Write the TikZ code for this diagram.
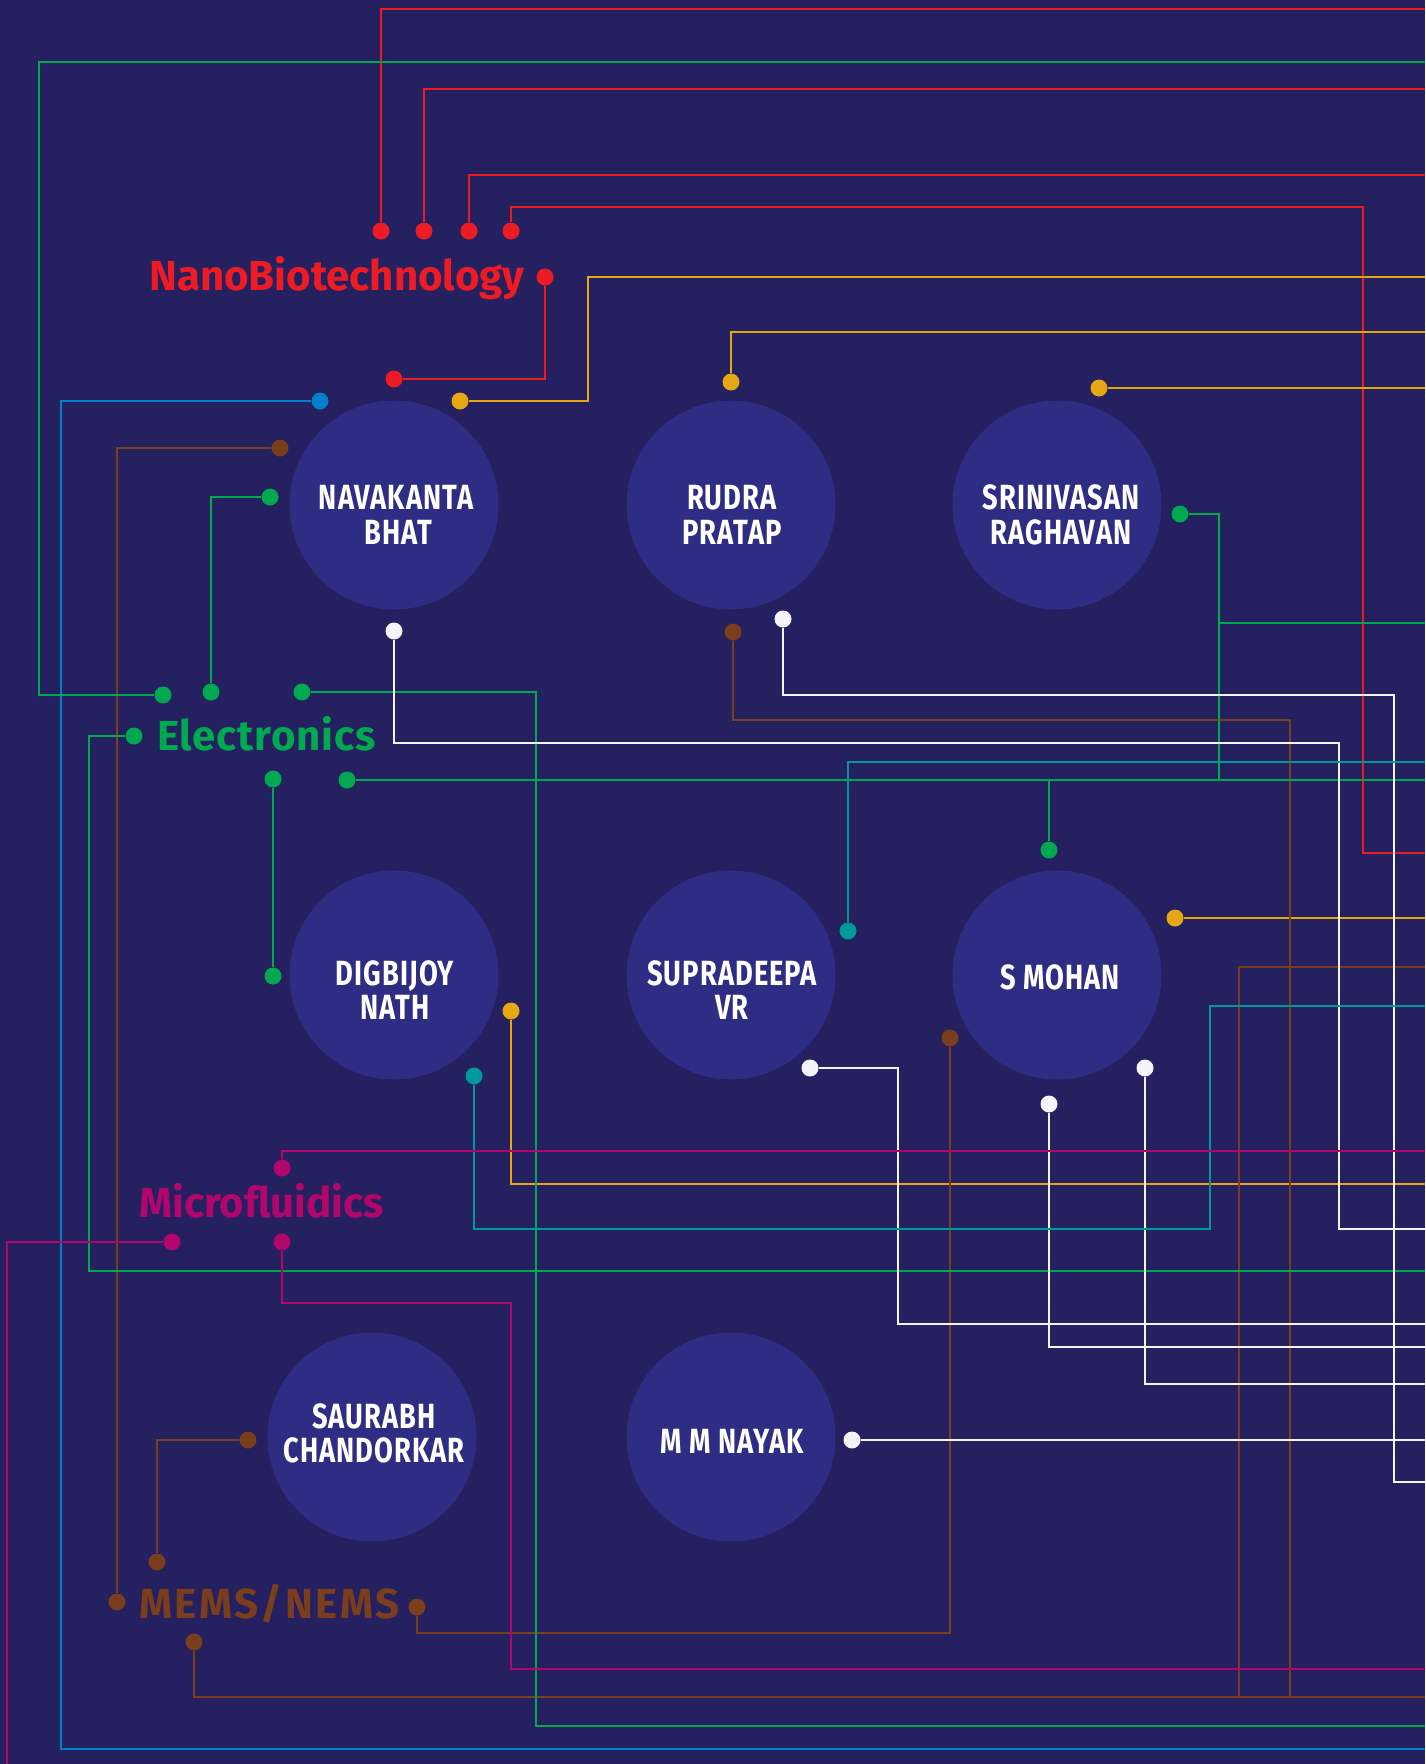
\documentclass[tikz,border=0pt]{standalone}
\usepackage{fontspec}
\setmainfont{Fira Sans}
\newfontfamily\namefont[FakeStretch=0.78,LetterSpace=3]{Fira Sans}
\newfontfamily\topicfont{Fira Sans}
\newfontfamily\topicfontsp[LetterSpace=2]{Fira Sans}
\newfontfamily\topicfontwide[LetterSpace=6]{Fira Sans}
\definecolor{bg}{HTML}{25205F}
\definecolor{circ}{HTML}{2E2D83}
\definecolor{cred}{HTML}{ED1C24}
\definecolor{cgreen}{HTML}{00A84F}
\definecolor{cyellow}{HTML}{E5A812}
\definecolor{cblue}{HTML}{0080C8}
\definecolor{cbrown}{HTML}{7A3E1C}
\definecolor{cteal}{HTML}{00999A}
\definecolor{cmag}{HTML}{B1066B}
\definecolor{cwhite}{HTML}{F4F4FA}
\tikzset{
  ln/.style={line width=1.7pt, draw=#1},
  tdot/.style={circle, fill=#1, inner sep=0pt, minimum size=17pt},
  person/.style={circle, fill=circ, inner sep=0pt, minimum size=209pt},
  nm/.style={font=\namefont\bfseries\fontsize{35}{35}\selectfont, text=white, anchor=base, inner sep=0pt},
  topic/.style={font=\topicfont\bfseries\fontsize{42}{42}\selectfont, text=#1, anchor=base west, inner sep=0pt},
}
\begin{document}
\begin{tikzpicture}[x=1pt,y=-1pt]
\fill[bg] (0,0) rectangle (1425,1764);
\useasboundingbox (0,0) rectangle (1425,1764);

% people
\node[person] (nb) at (394,505) {};
\node[person] (rp) at (731,505) {};
\node[person] (sr) at (1057,505) {};
\node[person] (dn) at (394,975) {};
\node[person] (sv) at (731,975) {};
\node[person] (sm) at (1057,975) {};
\node[person] (sc) at (372,1437) {};
\node[person] (mm) at (731,1437) {};

\node[nm] (nb1) at (396,509) {NAVAKANTA};
\node[nm] (nb2) at (398,544) {BHAT};
\node[nm] (rp1) at (732,509) {RUDRA};
\node[nm] (rp2) at (732,544) {PRATAP};
\node[nm] (sr1) at (1061,509) {SRINIVASAN};
\node[nm] (sr2) at (1061,544) {RAGHAVAN};
\node[nm] (dn1) at (395,985) {DIGBIJOY};
\node[nm] (dn2) at (395,1019) {NATH};
\node[nm] (sv1) at (732,985) {SUPRADEEPA};
\node[nm] (sv2) at (732,1019) {VR};
\node[nm] (sm1) at (1060,989) {S MOHAN};
\node[nm] (sc1) at (374,1428) {SAURABH};
\node[nm] (sc2) at (374,1462) {CHANDORKAR};
\node[nm] (mm1) at (732,1453) {M M NAYAK};

% topics
\node[topic=cred] (tnano) at (149,290) {NanoBiotechnology};
\node[topic=cgreen] (telec) at (157,750) {\topicfontsp\bfseries Electronics};
\node[topic=cmag] (tmicro) at (139,1217) {Microfluidics};
\node[topic=cbrown] (tmems) at (139,1618) {\topicfontwide\bfseries MEMS/NEMS};

% dots
\node[tdot=cred] (r1) at (381,231) {};
\node[tdot=cred] (r2) at (424,231) {};
\node[tdot=cred] (r3) at (469,231) {};
\node[tdot=cred] (r4) at (511,231) {};
\node[tdot=cred] (r5) at (545,277) {};
\node[tdot=cred] (r6) at (394,379) {};
\node[tdot=cyellow] (y1) at (460,401) {};
\node[tdot=cyellow] (y2) at (731,382) {};
\node[tdot=cyellow] (y3) at (1099,388) {};
\node[tdot=cyellow] (y4) at (1175,918) {};
\node[tdot=cyellow] (y5) at (511,1011) {};
\node[tdot=cblue] (b1) at (320,401) {};
\node[tdot=cbrown] (n1) at (280,448) {};
\node[tdot=cbrown] (n2) at (117,1602) {};
\node[tdot=cbrown] (n3) at (733,632) {};
\node[tdot=cbrown] (n4) at (248,1440) {};
\node[tdot=cbrown] (n5) at (157,1562) {};
\node[tdot=cbrown] (n6) at (417,1607) {};
\node[tdot=cbrown] (n7) at (950,1038) {};
\node[tdot=cbrown] (n8) at (194,1642) {};
\node[tdot=cgreen] (g1) at (163,695) {};
\node[tdot=cgreen] (g2) at (270,497) {};
\node[tdot=cgreen] (g3) at (211,692) {};
\node[tdot=cgreen] (g4) at (302,692) {};
\node[tdot=cgreen] (g5) at (134,736) {};
\node[tdot=cgreen] (g6) at (273,779) {};
\node[tdot=cgreen] (g7) at (273,976) {};
\node[tdot=cgreen] (g8) at (347,780) {};
\node[tdot=cgreen] (g9) at (1180,514) {};
\node[tdot=cgreen] (g10) at (1049,850) {};
\node[tdot=cwhite] (w1) at (394,631) {};
\node[tdot=cwhite] (w2) at (783,619) {};
\node[tdot=cwhite] (w3) at (810,1068) {};
\node[tdot=cwhite] (w4) at (1049,1104) {};
\node[tdot=cwhite] (w5) at (1145,1068) {};
\node[tdot=cwhite] (w6) at (852,1440) {};
\node[tdot=cteal] (t1) at (848,931) {};
\node[tdot=cteal] (t2) at (474,1076) {};
\node[tdot=cmag] (m1) at (282,1168) {};
\node[tdot=cmag] (m2) at (172,1242) {};
\node[tdot=cmag] (m3) at (282,1242) {};

% free ends
\coordinate (eR1) at (1425,9);
\coordinate (eR2) at (1425,89);
\coordinate (eR3) at (1425,175);
\coordinate (eR4) at (1425,853);
\coordinate (eY1) at (1425,277);
\coordinate (eY2) at (1425,332);
\coordinate (eY3) at (1425,388);
\coordinate (eY4) at (1425,918);
\coordinate (eY5) at (1425,1184);
\coordinate (eB1) at (1425,1749);
\coordinate (jN1) at (1290,1697);
\coordinate (jN2) at (1239,1697);
\coordinate (eN1) at (1425,1697);
\coordinate (eN2) at (1425,967);
\coordinate (eG1) at (1425,62);
\coordinate (eG4) at (1425,1726);
\coordinate (eG5) at (1425,1271);
\coordinate (eG8) at (1425,780);
\coordinate (jG1) at (1219,780);
\coordinate (jG2) at (1219,623);
\coordinate (eG9) at (1425,623);
\coordinate (jG3) at (1049,780);
\coordinate (eW1) at (1425,1229);
\coordinate (eW2) at (1425,1482);
\coordinate (eW3) at (1425,1324);
\coordinate (eW4) at (1425,1347);
\coordinate (eW5) at (1425,1384);
\coordinate (eW6) at (1425,1440);
\coordinate (eT1) at (1425,762);
\coordinate (eT2) at (1425,1006);
\coordinate (eM1) at (1425,1151);
\coordinate (eM2) at (7,1764);
\coordinate (eM3) at (1425,1669);

% red
\draw[ln=cred] (r1) |- (eR1);
\draw[ln=cred] (r2) |- (eR2);
\draw[ln=cred] (r3) |- (eR3);
\draw[ln=cred] (r4) |- (1363,207) |- (eR4);
\draw[ln=cred] (r5) |- (r6);
% yellow
\draw[ln=cyellow] (y1) -| (588,277) -- (eY1);
\draw[ln=cyellow] (y2) |- (eY2);
\draw[ln=cyellow] (y3) -- (eY3);
\draw[ln=cyellow] (y4) -- (eY4);
\draw[ln=cyellow] (y5) |- (eY5);
% blue
\draw[ln=cblue] (b1) -| (61,1749) -- (eB1);
% brown
\draw[ln=cbrown] (n1) -| (n2);
\draw[ln=cbrown] (n3) |- (1290,720) -- (jN1);
\draw[ln=cbrown] (n4) -| (n5);
\draw[ln=cbrown] (n6) |- (950,1633) -- (n7);
\draw[ln=cbrown] (n8) |- (eN1);
\draw[ln=cbrown] (jN2) |- (eN2);
% green
\draw[ln=cgreen] (g1) -| (39,62) -- (eG1);
\draw[ln=cgreen] (g2) -| (g3);
\draw[ln=cgreen] (g4) -| (536,1726) -- (eG4);
\draw[ln=cgreen] (g5) -| (89,1271) -- (eG5);
\draw[ln=cgreen] (g6) -- (g7);
\draw[ln=cgreen] (g8) -- (eG8);
\draw[ln=cgreen] (g9) -| (jG1);
\draw[ln=cgreen] (jG2) -- (eG9);
\draw[ln=cgreen] (jG3) -- (g10);
% white
\draw[ln=cwhite] (w1) |- (1339,743) |- (eW1);
\draw[ln=cwhite] (w2) |- (1394,695) |- (eW2);
\draw[ln=cwhite] (w3) -| (898,1324) -- (eW3);
\draw[ln=cwhite] (w4) |- (eW4);
\draw[ln=cwhite] (w5) |- (eW5);
\draw[ln=cwhite] (w6) -- (eW6);
% teal
\draw[ln=cteal] (t1) |- (eT1);
\draw[ln=cteal] (t2) |- (1210,1229) |- (eT2);
% magenta
\draw[ln=cmag] (m1) |- (eM1);
\draw[ln=cmag] (m2) -| (eM2);
\draw[ln=cmag] (m3) |- (511,1303) |- (eM3);
\end{tikzpicture}
\end{document}
